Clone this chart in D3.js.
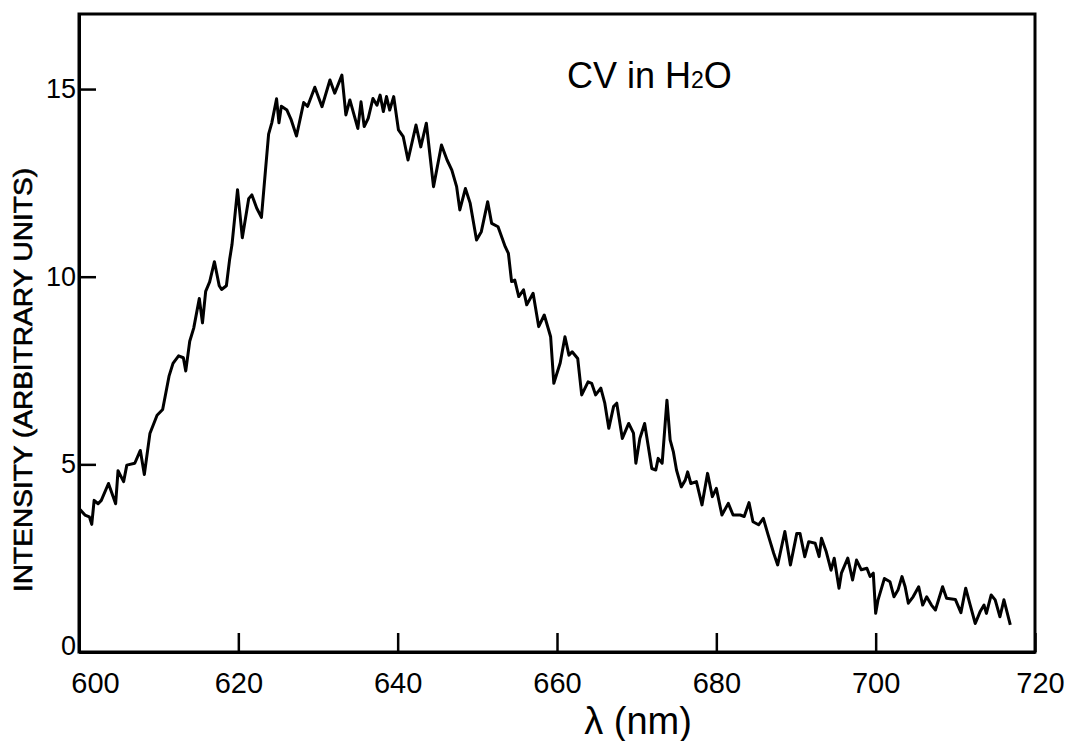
<!DOCTYPE html>
<html>
<head>
<meta charset="utf-8">
<script src="https://cdn.jsdelivr.net/npm/d3@7"></script>
<style>
  body { margin: 0; background: #fff; }
  svg { display: block; }
  text { font-family: "Liberation Sans", Arial, sans-serif; fill: #000; }
</style>
</head>
<body>
<div id="chart"></div>
<script>
// Emission spectrum
const wavelength = [
  600.1, 600.75, 601.3, 601.6, 601.9, 602.4, 602.8, 603.7, 604.6, 604.9,
  605.6, 606.0, 607.0, 607.7, 608.2, 608.9, 609.8, 610.5, 611.3, 611.8,
  612.5, 613.1, 613.4, 613.9, 614.4, 615.1, 615.5, 615.9, 616.4, 617.0,
  617.6, 617.9, 618.5, 618.9, 619.2, 619.9, 620.5, 621.3, 621.7, 622.3,
  622.9, 623.4, 623.8, 624.2, 624.8, 625.1, 625.4, 626.1, 626.6, 627.3,
  628.2, 628.7, 629.6, 630.5, 631.5, 632.1, 633.0, 633.5, 634.0, 635.0,
  635.4, 635.8, 636.3, 636.9, 637.4, 637.8, 638.2, 638.6, 639.0, 639.5,
  640.1, 640.7, 641.3, 642.3, 642.9, 643.6, 644.5, 645.5, 646.2, 646.8,
  647.4, 647.8, 648.5, 649.1, 649.9, 650.5, 651.3, 651.8, 652.6, 653.5,
  653.9, 654.3, 654.7, 655.2, 655.8, 656.2, 657.0, 657.7, 658.4, 658.9,
  659.2, 659.6, 660.4, 661.0, 661.5, 661.9, 662.6, 663.1, 663.9, 664.35,
  664.85, 665.5, 666.0, 666.5, 667.1, 667.5, 668.2, 669.0, 669.6, 669.9,
  670.4, 671.0, 671.9, 672.4, 672.7, 673.2, 673.8, 674.2, 674.6, 675.0,
  675.6, 676.1, 676.4, 676.8, 677.5, 678.2, 678.9, 679.5, 680.0, 680.7,
  681.5, 682.1, 683.0, 683.5, 684.1, 684.6, 685.3, 685.9, 686.5, 687.2,
  687.7, 688.6, 689.3, 690.1, 690.5, 691.1, 691.6, 692.4, 692.9, 693.2,
  693.8, 694.4, 694.8, 695.4, 695.7, 696.5, 697.1, 697.6, 698.2, 698.9,
  699.3, 699.7, 700.0, 700.3, 701.1, 701.8, 702.3, 702.8, 703.3, 703.7,
  704.1, 704.7, 705.4, 705.9, 706.4, 707.0, 707.5, 708.4, 708.9, 710.0,
  710.7, 711.3, 711.8, 712.5, 713.1, 713.6, 713.9, 714.5, 715.0, 715.6,
  716.1, 716.9
];
const intensity = [
  3.80, 3.65, 3.60, 3.40, 4.04, 3.95, 4.04, 4.49, 3.95, 4.83,
  4.54, 4.98, 5.03, 5.37, 4.73, 5.82, 6.31, 6.46, 7.35, 7.69,
  7.89, 7.84, 7.49, 8.28, 8.63, 9.42, 8.77, 9.61, 9.86, 10.40,
  9.76, 9.66, 9.76, 10.45, 10.85, 12.32, 11.04, 12.08, 12.18, 11.83,
  11.58, 12.82, 13.80, 14.10, 14.74, 14.10, 14.54, 14.44, 14.20, 13.75,
  14.64, 14.54, 15.05, 14.53, 15.24, 14.89, 15.37, 14.31, 14.71, 13.95,
  14.66, 14.00, 14.22, 14.75, 14.57, 14.84, 14.40, 14.80, 14.44, 14.80,
  13.91, 13.73, 13.11, 14.04, 13.46, 14.09, 12.40, 13.51, 13.11, 12.84,
  12.40, 11.78, 12.35, 11.96, 10.98, 11.20, 12.00, 11.42, 11.33, 10.80,
  10.62, 9.87, 9.91, 9.47, 9.65, 9.25, 9.56, 8.67, 8.98, 8.62,
  8.40, 7.16, 7.70, 8.40, 7.91, 8.00, 7.82, 6.85, 7.20, 7.16,
  6.85, 7.03, 6.63, 5.96, 6.54, 6.63, 5.69, 6.09, 5.83, 5.03,
  5.69, 6.09, 4.89, 4.85, 5.16, 5.03, 6.71, 5.65, 5.34, 4.85,
  4.40, 4.58, 4.80, 4.49, 4.54, 3.92, 4.76, 4.14, 4.36, 3.65,
  3.96, 3.65, 3.65, 3.61, 3.98, 3.47, 3.39, 3.56, 3.12, 2.63,
  2.32, 3.21, 2.32, 3.16, 3.16, 2.54, 2.94, 2.90, 2.54, 3.03,
  2.67, 2.18, 2.50, 1.70, 2.10, 2.50, 1.92, 2.45, 2.19, 2.23,
  2.01, 2.10, 1.03, 1.39, 1.96, 1.87, 1.47, 1.65, 2.01, 1.74,
  1.30, 1.47, 1.74, 1.25, 1.47, 1.25, 1.12, 1.74, 1.43, 1.40,
  1.05, 1.70, 1.30, 0.76, 1.07, 1.25, 1.03, 1.52, 1.39, 0.94,
  1.39, 0.72
];
const xTicks = [600, 620, 640, 660, 680, 700, 720];
const yTicks = [0, 5, 10, 15];

const W = 1068, H = 741;
const margin = {top: 14, right: 33, bottom: 89, left: 79};
const width = W - margin.left - margin.right;
const height = H - margin.top - margin.bottom;

const svg = d3.select("#chart")
    .append("svg")
    .attr("width", W)
    .attr("height", H);

const g = svg.append("g")
    .attr("transform", `translate(${margin.left},${margin.top})`);

// Scales
const x = d3.scaleLinear().domain([600, 720]).range([0, width]);
const y = d3.scaleLinear().domain([0, 17]).range([height, 0]);

// Frame (top and right edges)
g.append("rect")
    .attr("x", 0).attr("y", 0)
    .attr("width", width).attr("height", height)
    .attr("fill", "none")
    .attr("stroke", "#000")
    .attr("stroke-width", 3);

// x axis, ticks pointing inward
const xAxis = g.append("g")
    .attr("transform", `translate(0,${height})`)
    .call(d3.axisBottom(x).tickValues(xTicks).tickSize(-19).tickSizeOuter(0).tickPadding(20));
xAxis.select(".domain").attr("stroke-width", 3);
xAxis.selectAll(".tick line").attr("stroke-width", 2.5);
xAxis.selectAll(".tick text")
    .attr("font-size", 29)
    .attr("font-family", null)
    .attr("dx", d => d === 600 ? 16 : (d === 720 ? 5 : 0));

// y axis
const yAxis = g.append("g")
    .call(d3.axisLeft(y).tickValues(yTicks).tickSize(-17).tickSizeOuter(0).tickPadding(3));
yAxis.select(".domain").attr("stroke-width", 3);
yAxis.selectAll(".tick line").attr("stroke-width", 2.5);
yAxis.selectAll(".tick text")
    .attr("font-size", 27)
    .attr("font-family", null)
    .attr("dy", d => d === 0 ? "0.1em" : "0.32em");

// spectrum
const line = d3.line()
    .x((d, i) => x(wavelength[i]))
    .y(d => y(d));

g.append("path")
    .datum(intensity)
    .attr("fill", "none")
    .attr("stroke", "#000")
    .attr("stroke-width", 3)
    .attr("stroke-linejoin", "round")
    .attr("d", line);

// annotation
const note = svg.append("text")
    .attr("x", 567)
    .attr("y", 88)
    .attr("font-size", 36);
note.append("tspan").text("CV in H");
note.append("tspan").attr("font-size", 23).text("2");
note.append("tspan").text("O");

// axis titles
svg.append("text")
    .attr("x", 638)
    .attr("y", 734)
    .attr("text-anchor", "middle")
    .attr("font-size", 38)
    .text("λ (nm)");

svg.append("text")
    .attr("transform", "translate(32,380) rotate(-90)")
    .attr("text-anchor", "middle")
    .attr("font-size", 26)
    .attr("stroke", "#000")
    .attr("stroke-width", 0.6)
    .attr("textLength", 424)
    .attr("lengthAdjust", "spacingAndGlyphs")
    .text("INTENSITY (ARBITRARY UNITS)");
</script>
</body>
</html>
